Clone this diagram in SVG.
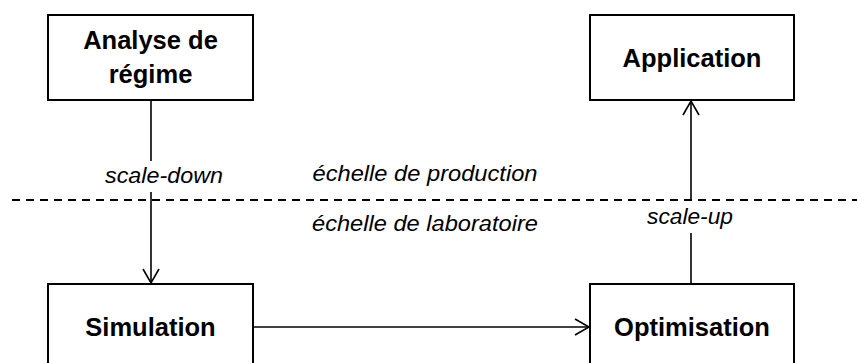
<svg xmlns="http://www.w3.org/2000/svg" width="857" height="363" viewBox="0 0 857 363">
  <style>
    .box { fill: #ffffff; stroke: #000000; stroke-width: 2; }
    .title { font-family: "Liberation Sans", Arial, sans-serif; font-weight: bold; font-size: 25.5px; fill: #000000; text-anchor: middle; }
    .lbl { font-family: "Liberation Sans", Arial, sans-serif; font-style: italic; font-size: 22px; fill: #000000; text-anchor: middle; }
    .conn { fill: none; stroke: #000000; stroke-width: 1.6; }
    .dash { fill: none; stroke: #000000; stroke-width: 2; stroke-dasharray: 8 6; }
  </style>
  <defs>
    <marker id="arrow" markerUnits="userSpaceOnUse" markerWidth="20" markerHeight="20" viewBox="-16 -10 20 20" refX="0" refY="0" orient="auto">
      <path d="M-14,-8 L0,0 L-14,8" fill="none" stroke="#000000" stroke-width="1.6"/>
    </marker>
  </defs>

  <g id="divider">
    <line class="dash" x1="12" y1="200" x2="857" y2="200"/>
  </g>

  <g id="connectors">
    <line class="conn" x1="151" y1="100" x2="151" y2="161"/>
    <line class="conn" x1="151" y1="192" x2="151" y2="283" marker-end="url(#arrow)"/>
    <line class="conn" x1="691" y1="284" x2="691" y2="233"/>
    <line class="conn" x1="691" y1="199" x2="691" y2="101" marker-end="url(#arrow)"/>
    <line class="conn" x1="253" y1="327" x2="589" y2="327" marker-end="url(#arrow)"/>
  </g>

  <g id="labels">
    <text class="lbl" x="164" y="183" textLength="118" lengthAdjust="spacingAndGlyphs">scale-down</text>
    <text class="lbl" x="425" y="181" textLength="225" lengthAdjust="spacingAndGlyphs">échelle de production</text>
    <text class="lbl" x="425" y="231" textLength="226" lengthAdjust="spacingAndGlyphs">échelle de laboratoire</text>
    <text class="lbl" x="690" y="224" textLength="86" lengthAdjust="spacingAndGlyphs">scale-up</text>
  </g>

  <g id="node-analyse">
    <rect class="box" x="48" y="15" width="205" height="85"/>
    <text class="title" x="150.5" y="49">Analyse de</text>
    <text class="title" x="150.5" y="83">régime</text>
  </g>

  <g id="node-application">
    <rect class="box" x="590" y="15" width="204" height="85"/>
    <text class="title" x="692" y="67">Application</text>
  </g>

  <g id="node-simulation">
    <rect class="box" x="48" y="284" width="205" height="85"/>
    <text class="title" x="150.5" y="336">Simulation</text>
  </g>

  <g id="node-optimisation">
    <rect class="box" x="590" y="284" width="204" height="85"/>
    <text class="title" x="692" y="336">Optimisation</text>
  </g>
</svg>
